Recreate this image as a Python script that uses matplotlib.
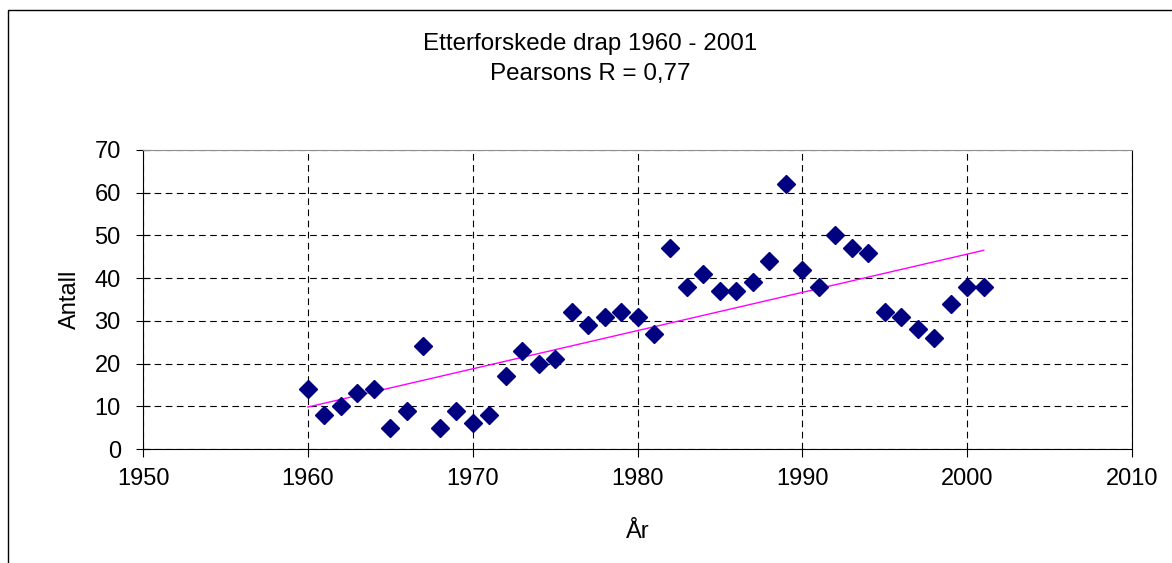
import numpy as np
import matplotlib
matplotlib.use('Agg')
import matplotlib.pyplot as plt
from matplotlib.patches import Rectangle

plt.rcParams['font.family'] = ['Liberation Sans', 'DejaVu Sans']

years = np.arange(1960, 2002)
antall = [14, 8, 10, 13, 14, 5, 9, 24, 5, 9,
          6, 8, 17, 23, 20, 21, 32, 29, 31, 32,
          31, 27, 47, 38, 41, 37, 37, 39, 44, 62,
          42, 38, 50, 47, 46, 32, 31, 28, 26, 34,
          38, 38]
title = 'Etterforskede drap 1960 - 2001\nPearsons R = 0,77'

fig = plt.figure(figsize=(11.72, 5.63), dpi=100)
ax = fig.add_axes([143/1172, 1 - 449/563, (1132-143)/1172, (449-150)/563])

# chart frame (cropped at right and bottom)
fig.patches.append(Rectangle((8/1172, -0.1), 1.2, 1 - 10/563 + 0.1,
                             transform=fig.transFigure, fill=False,
                             edgecolor='black', linewidth=1.0))

slope, icpt = np.polyfit(years, antall, 1)
ax.plot(years, slope*years + icpt, color='#ff00ff', linewidth=1.0, zorder=2)
ax.plot(years, antall, 'D', color='#000080', markersize=9.5, zorder=3)

ax.set_xlim(1950, 2010)
ax.set_ylim(0, 70)
ax.set_xticks(np.arange(1950, 2011, 10))
ax.set_yticks(np.arange(0, 71, 10))
ax.grid(True, color='black', linestyle=(0, (6, 4)), linewidth=0.8)
ax.set_axisbelow(True)
ax.tick_params(axis='y', direction='inout', length=10, labelsize=17, pad=11)
ax.tick_params(axis='x', direction='out', length=6, labelsize=17, pad=8)
ax.spines['top'].set_color('#909090')
for s in ['left', 'bottom', 'right']:
    ax.spines[s].set_color('black')
ax.set_xlabel('År', fontsize=17, labelpad=22)
ax.set_ylabel('Antall', fontsize=17, labelpad=10)

fig.text(590/1172, 1 - 59/563, title, ha='center', va='center',
         fontsize=17.4, linespacing=1.45)

fig.savefig('out.png', dpi=100)
